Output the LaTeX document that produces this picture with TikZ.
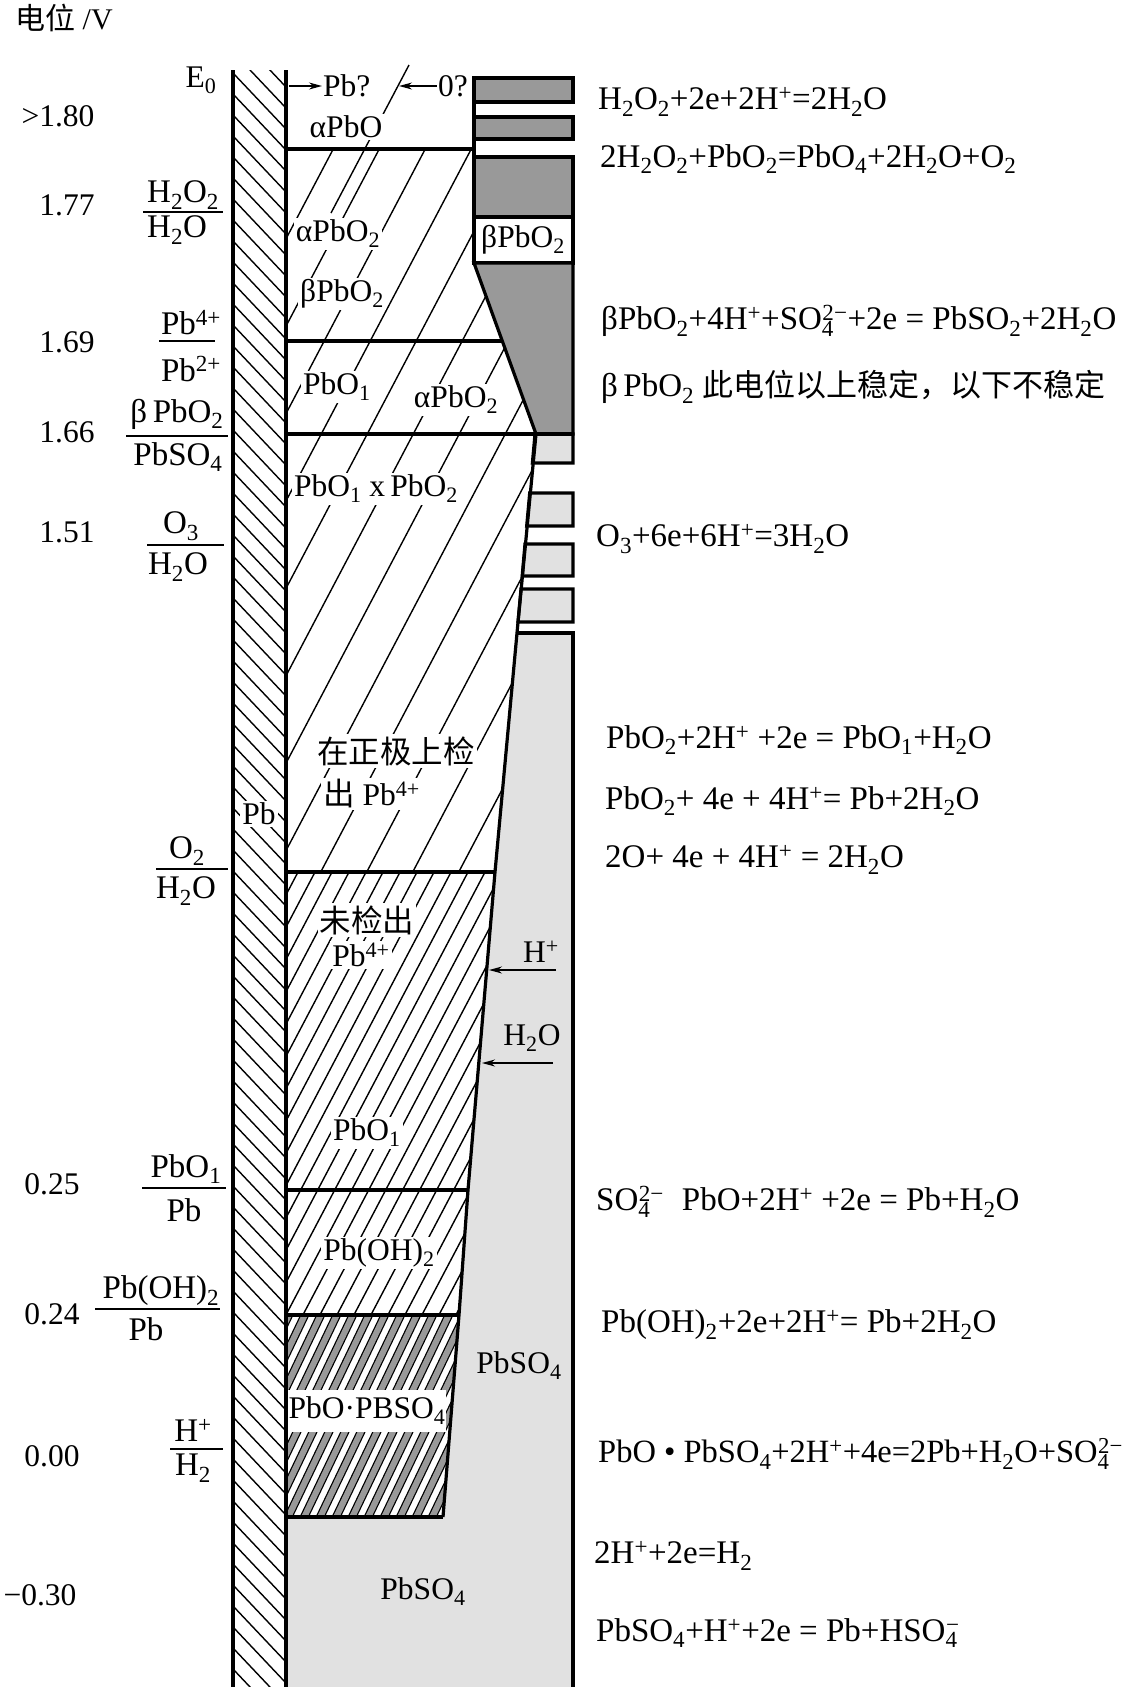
\documentclass[tikz,border=0pt]{standalone}
\usepackage{fontspec}
\setmainfont{Liberation Serif}
\newfontfamily\cjk{Noto Sans CJK SC}
\usetikzlibrary{arrows.meta}
\definecolor{OxideGray}{HTML}{999999}
\definecolor{SulfateGray}{HTML}{E1E1E1}
\newcommand\lo[1]{\textsubscript{#1}}
\newcommand\hi[1]{\textsuperscript{#1}}
\newcommand\ionsub[3]{#1\textsubscript{\rlap{#2}}\textsuperscript{#3}}
\tikzset{txt/.style={font=\fontsize{31.5}{36}\selectfont,inner sep=1pt},
  eqn/.style={txt,font=\fontsize{33}{38}\selectfont,anchor=west},
  wall/.style={line width=3.2pt},
  hatch/.style={line width=1.4pt}}

\begin{document}
\begin{tikzpicture}[x=1pt,y=-1pt,
  lab/.style={txt,fill=white,inner sep=2pt},
  link/.style={-{Stealth[length=13pt,width=7pt]},line width=1.3pt}]
\useasboundingbox (0,0) rectangle (1126,1687);
% Gray fills
\fill[SulfateGray] (517,633) -- (573,633) -- (573,1687) -- (286,1687) -- (286,1517) -- (443,1517)
  -- (459,1315) -- (468,1190) -- (495,872) -- cycle;
\draw[wall,fill=SulfateGray] (535,434) -- (573,434) -- (573,463) -- (532.4,463) -- cycle;
\draw[wall,fill=SulfateGray] (529.7,493) -- (573,493) -- (573,526) -- (526.7,526) -- cycle;
\draw[wall,fill=SulfateGray] (525,544) -- (573,544) -- (573,576) -- (522.2,576) -- cycle;
\draw[wall,fill=SulfateGray] (521,589) -- (573,589) -- (573,622) -- (518,622) -- cycle;
\draw[wall,fill=OxideGray] (474,78) rectangle (573,102);
\draw[wall,fill=OxideGray] (474,117) rectangle (573,139);
\draw[wall,fill=OxideGray] (474,157) rectangle (573,217);
\draw[wall,fill=white] (474,217) rectangle (573,263);
\draw[wall,fill=OxideGray] (474,263) -- (573,263) -- (573,434) -- (536,434) -- cycle;
% Hatching
\begin{scope}
\clip (233,70) rectangle (286,1687);
\foreach \y in {10,31,...,1700} \draw[hatch] (233,\y) -- ++(53,56);
\end{scope}
\begin{scope}
\clip (286,149) -- (474,149) -- (474,263) -- (536,434) -- (517,633) -- (495,872) -- (286,872) -- cycle;
\foreach \x in {-200,-154,...,600} \draw[hatch] (\x,900) -- ++(400,-760);
\end{scope}
\begin{scope}
\clip (286,872) -- (495,872) -- (468,1190) -- (459,1315) -- (286,1315) -- cycle;
\foreach \x in {-300,-283,...,500} \draw[hatch] (\x,1330) -- ++(250,-475);
\end{scope}
\begin{scope}
\clip (286,1315) -- (459,1315) -- (443,1517) -- (286,1517) -- cycle;
\foreach \x in {-150,-134,...,500} {
  \draw[line width=8.5pt] (\x,1530) -- ++(110,-230);
  \draw[line width=6pt,OxideGray] (\x,1530) -- ++(110,-230);}
\end{scope}
\draw[hatch] (409,65) -- (331,213);
% Walls and layer boundaries
\draw[wall] (233,70) -- (233,1687);
\draw[wall] (286,70) -- (286,1687);
\draw[wall] (474,78) -- (474,263);
\draw[wall] (286,149) -- (474,149);
\draw[wall] (286,341) -- (503,341);
\draw[wall] (286,434) -- (573,434);
\draw[wall] (286,872) -- (495,872);
\draw[wall] (286,1190) -- (468,1190);
\draw[wall] (286,1315) -- (459,1315);
\draw[wall] (286,1517) -- (443,1517);
\draw[wall] (536,434) -- (517,633) -- (495,872) -- (468,1190) -- (459,1315) -- (443,1517);
\draw[wall] (517,633) -- (573,633) -- (573,1687);
% Potential axis
\node[eqn,font=\fontsize{30}{34}\selectfont] (axis) at (14,18) {{\cjk 电位} /V};
\node[txt] (e0) at (201,80) {E\lo{0}};
\node[txt] (v180) at (58,116) {>1.80};
\node[txt] (v177) at (67,205) {1.77};
\node[txt] (v169) at (67,342) {1.69};
\node[txt] (v166) at (67,432) {1.66};
\node[txt] (v151) at (67,532) {1.51};
\node[txt] (v025) at (52,1184) {0.25};
\node[txt] (v024) at (52,1314) {0.24};
\node[txt] (v000) at (52,1456) {0.00};
\node[txt] (vm030) at (40,1595) {−0.30};
% Electrode couples
\node[eqn,anchor=west] (peroxTop) at (146,195) {H\lo{2}O\lo{2}};
\node[eqn,anchor=west] (peroxBot) at (146,230) {H\lo{2}O};
\draw[line width=1.2pt] (143,212) -- (223,212);
\node[eqn,anchor=center] (pb4Top) at (191,323) {Pb\hi{4+}};
\node[eqn,anchor=center] (pb4Bot) at (191,369) {Pb\hi{2+}};
\draw[line width=1.2pt] (159,341) -- (215,341);
\node[eqn,anchor=center] (betaTop) at (177,414) {β\,PbO\lo{2}};
\node[eqn,anchor=center] (betaBot) at (178,457) {PbSO\lo{4}};
\draw[line width=1.2pt] (126,436) -- (228,436);
\node[eqn,anchor=center] (ozoneTop) at (181,526) {O\lo{3}};
\node[eqn,anchor=center] (ozoneBot) at (178,567) {H\lo{2}O};
\draw[line width=1.2pt] (147,545) -- (224,545);
\node[eqn,anchor=center] (oxyTop) at (187,851) {O\lo{2}};
\node[eqn,anchor=center] (oxyBot) at (186,891) {H\lo{2}O};
\draw[line width=1.2pt] (156,869) -- (228,869);
\node[eqn,anchor=center] (monoTop) at (186,1169) {PbO\lo{1}};
\node[eqn,anchor=center] (monoBot) at (184,1210) {Pb};
\draw[line width=1.2pt] (142,1188) -- (226,1188);
\node[eqn,anchor=center] (hydTop) at (161,1291) {Pb(OH)\lo{2}};
\node[eqn,anchor=center] (hydBot) at (146,1329) {Pb};
\draw[line width=1.2pt] (95,1309) -- (220,1309);
\node[eqn,anchor=center] (protTop) at (193,1430) {H\hi{+}};
\node[eqn,anchor=center] (protBot) at (193,1468) {H\lo{2}};
\draw[line width=1.2pt] (170,1449) -- (223,1449);
% Layer names
\node[lab] (metal) at (259,814) {Pb};
\node[txt,anchor=west] (pbq) at (322,86) {Pb?};
\coordinate (pbTail) at (289,86);
\draw[link] (pbTail) -- (pbq.west);
\node[txt] (oq) at (453,86) {0?};
\coordinate (oTip) at (399,86);
\draw[link] (oq.west) -- (oTip);
\node[lab] (alphaPbO) at (346,127) {αPbO};
\node[lab] (alphaTop) at (338,234) {αPbO\lo{2}};
\node[lab] (betaMid) at (342,294) {βPbO\lo{2}};
\node[txt] (betaBox) at (523,240) {βPbO\lo{2}};
\node[lab] (pbo1Up) at (337,387) {PbO\lo{1}};
\node[lab] (alphaLow) at (456,400) {αPbO\lo{2}};
\node[lab] (mixed) at (376,489) {PbO\lo{1} x\,PbO\lo{2}};
\node[lab,anchor=west] (found) at (315,751) {\cjk 在正极上检};
\node[lab,anchor=west] (foundPb) at (321,794) {{\cjk 出} Pb\hi{4+}};
\node[lab] (notFound) at (367,920) {\cjk 未检出};
\node[lab] (notFoundPb) at (361,955) {Pb\hi{4+}};
\node[lab] (pbo1Low) at (367,1133) {PbO\lo{1}};
\node[lab] (hydroxide) at (379,1253) {Pb(OH)\lo{2}};
\node[lab,inner xsep=1pt,minimum height=42pt] (basic) at (367,1411) {PbO·PBSO\lo{4}};
\node[txt] (sulfRight) at (519,1366) {PbSO\lo{4}};
\node[txt] (sulfBottom) at (423,1592) {PbSO\lo{4}};
% Ion arrows
\node[txt] (hplus) at (541,952) {H\hi{+}};
\coordinate (hplusTail) at (556,970);
\coordinate (hplusTip) at (489,970);
\draw[link] (hplusTail) -- (hplusTip);
\node[txt] (water) at (532,1038) {H\lo{2}O};
\coordinate (waterTail) at (553,1063);
\coordinate (waterTip) at (482,1063);
\draw[link] (waterTail) -- (waterTip);
% Reactions
\node[eqn] (r1) at (597,102) {H\lo{2}O\lo{2}+2e+2H\hi{+}=2H\lo{2}O};
\node[eqn] (r2) at (599,159) {2H\lo{2}O\lo{2}+PbO\lo{2}=PbO\lo{4}+2H\lo{2}O+O\lo{2}};
\node[eqn] (r3) at (600,321) {βPbO\lo{2}+4H\hi{+}+\ionsub{SO}{4}{2−}+2e = PbSO\lo{2}+2H\lo{2}O};
\node[eqn] (r4) at (600,387) {β\,PbO\lo{2} {\cjk\fontsize{31}{36}\selectfont 此电位以上稳定，以下不稳定}};
\node[eqn] (r5) at (595,539) {O\lo{3}+6e+6H\hi{+}=3H\lo{2}O};
\node[eqn] (r6) at (605,740) {PbO\lo{2}+2H\hi{+} +2e = PbO\lo{1}+H\lo{2}O};
\node[eqn] (r7) at (604,801) {PbO\lo{2}+ 4e + 4H\hi{+}= Pb+2H\lo{2}O};
\node[eqn] (r8) at (604,860) {2O+ 4e + 4H\hi{+} = 2H\lo{2}O};
\node[eqn] (r9) at (595,1202) {\ionsub{SO}{4}{2−}\hspace{18pt}PbO+2H\hi{+} +2e = Pb+H\lo{2}O};
\node[eqn] (r10) at (600,1325) {Pb(OH)\lo{2}+2e+2H\hi{+}= Pb+2H\lo{2}O};
\node[eqn,font=\fontsize{32.5}{38}\selectfont] (r11) at (597,1454) {PbO • PbSO\lo{4}+2H\hi{+}+4e=2Pb+H\lo{2}O+\ionsub{SO}{4}{2−}};
\node[eqn] (r12) at (593,1556) {2H\hi{+}+2e=H\lo{2}};
\node[eqn] (r13) at (595,1633) {PbSO\lo{4}+H\hi{+}+2e = Pb+\ionsub{HSO}{4}{−}};
\end{tikzpicture}
\end{document}
